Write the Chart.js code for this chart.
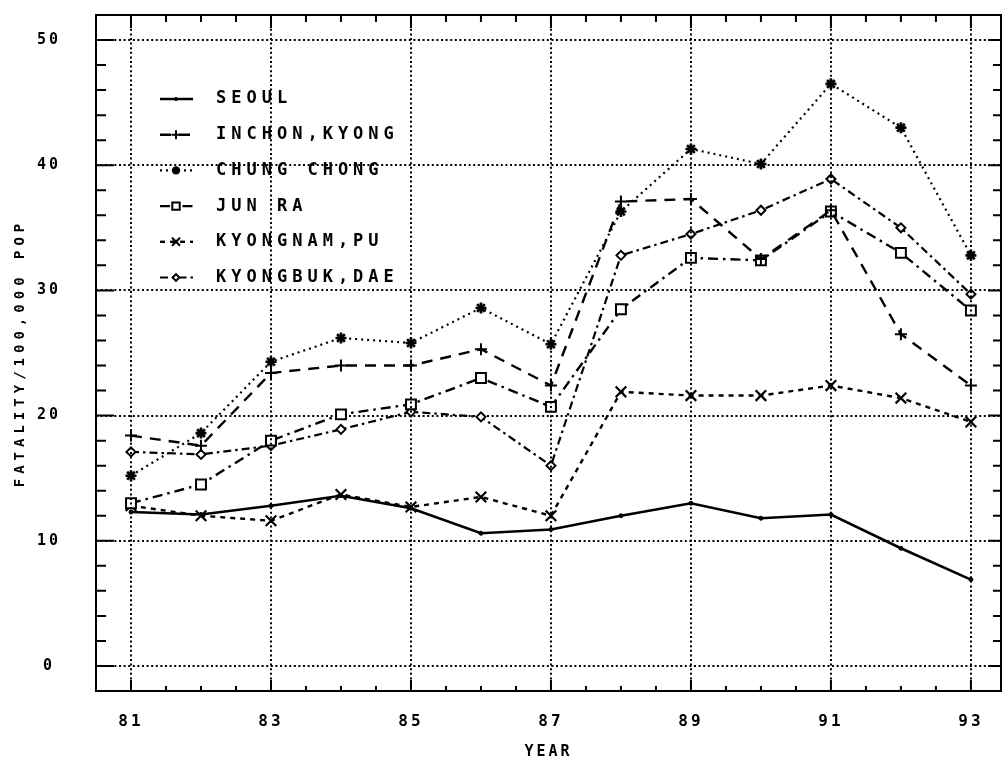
<!DOCTYPE html>
<html>
<head>
<meta charset="utf-8">
<script src="https://cdn.jsdelivr.net/npm/chart.js@4"></script>
<style>
  html, body { margin: 0; padding: 0; background: #fff; overflow: hidden; }
  #wrap { width: 1002px; height: 761px; position: relative; overflow: hidden; }
  #wrap canvas { display: block; }
</style>
</head>
<body>
<div id="wrap"><canvas id="canvas"></canvas></div>
<script>
// values, years 81..93
const years = [81, 82, 83, 84, 85, 86, 87, 88, 89, 90, 91, 92, 93];
const seoul    = [12.3, 12.1, 12.8, 13.6, 12.6, 10.6, 10.9, 12.0, 13.0, 11.8, 12.1, 9.4, 6.9];
const inchon   = [18.4, 17.6, 23.4, 24.0, 24.0, 25.3, 22.4, 37.1, 37.3, 32.5, 36.4, 26.5, 22.4];
const chung    = [15.2, 18.6, 24.3, 26.2, 25.8, 28.6, 25.7, 36.3, 41.3, 40.1, 46.5, 43.0, 32.8];
const junra    = [13.0, 14.5, 18.0, 20.1, 20.9, 23.0, 20.7, 28.5, 32.6, 32.4, 36.3, 33.0, 28.4];
const kyongnam = [12.8, 12.0, 11.6, 13.7, 12.7, 13.5, 12.0, 21.9, 21.6, 21.6, 22.4, 21.4, 19.5];
const kyongbuk = [17.1, 16.9, 17.6, 18.9, 20.3, 19.9, 16.0, 32.8, 34.5, 36.4, 38.9, 35.0, 29.7];

const seriesNames = ["SEOUL", "INCHON,KYONG", "CHUNG CHONG", "JUN RA", "KYONGNAM,PU", "KYONGBUK,DAE"];
const xTicks = [81, 83, 85, 87, 89, 91, 93];
const yTicks = [0, 10, 20, 30, 40, 50];

const seriesValues = [seoul, inchon, chung, junra, kyongnam, kyongbuk];

// line / marker look for each series
const styles = [
  { dash: [],              width: 2.6, point: "circle",   radius: 2,   pw: 1,   bg: "#000" },
  { dash: [11, 8],         width: 2.4, point: "cross",    radius: 6,   pw: 2,   bg: "#000" },
  { dash: [2, 4],          width: 2.2, point: "star",     radius: 5.5, pw: 2.6, bg: "#000" },
  { dash: [10, 5, 2.5, 5], width: 2.4, point: "rect",     radius: 7,   pw: 2,   bg: "#fff" },
  { dash: [5, 5],          width: 2.4, point: "crossRot", radius: 7.5, pw: 2.2, bg: "#000" },
  { dash: [8, 4, 2.5, 4],  width: 2.2, point: "rectRot",  radius: 4.5, pw: 2,   bg: "#fff" }
];

const datasets = seriesNames.map((name, i) => ({
  label: name,
  data: years.map((yr, j) => ({ x: yr, y: seriesValues[i][j] })),
  borderColor: "#000",
  borderWidth: styles[i].width,
  borderDash: styles[i].dash,
  pointStyle: styles[i].point,
  pointRadius: styles[i].radius,
  pointBorderWidth: styles[i].pw,
  pointBorderColor: "#000",
  pointBackgroundColor: styles[i].bg,
  fill: false,
  tension: 0
}));

// letter spacing: wide plotter-style text
// (y title drawn before the datasets, tick labels and YEAR after)
const spacingPlugin = {
  id: "spacing",
  beforeLayout(chart) { chart.ctx.letterSpacing = "3px"; },
  beforeDraw(chart) { chart.ctx.letterSpacing = "5px"; },
  afterDatasetsDraw(chart) { chart.ctx.letterSpacing = "3px"; }
};

// frame box with inward ticks on all four sides
const framePlugin = {
  id: "frame",
  afterDraw(chart) {
    const { ctx, chartArea: a, scales: { x, y } } = chart;
    ctx.save();
    ctx.setLineDash([]);
    ctx.strokeStyle = "#000";
    ctx.lineWidth = 2;
    ctx.strokeRect(a.left, a.top, a.right - a.left, a.bottom - a.top);
    ctx.beginPath();
    for (let v = 81; v <= 93; v += 0.5) {
      const px = x.getPixelForValue(v);
      const major = xTicks.includes(v);
      ctx.moveTo(px, a.bottom); ctx.lineTo(px, a.bottom - (major ? 11 : 5));
      ctx.moveTo(px, a.top); ctx.lineTo(px, a.top + (major ? 13 : 7));
    }
    for (let v = 0; v <= 50; v += 2) {
      const py = y.getPixelForValue(v);
      const major = yTicks.includes(v);
      ctx.moveTo(a.left, py); ctx.lineTo(a.left + (major ? 18 : 10), py);
      ctx.moveTo(a.right, py); ctx.lineTo(a.right - (major ? 13 : 8), py);
    }
    ctx.stroke();
    ctx.restore();
  }
};

// legend drawn inside the plot, line sample with marker in the middle
const legendPlugin = {
  id: "plotLegend",
  afterDraw(chart) {
    const ctx = chart.ctx;
    ctx.save();
    chart.data.datasets.forEach((ds, i) => {
      const cy = 99 + i * 35.7;
      ctx.strokeStyle = "#000";
      ctx.lineWidth = ds.borderWidth;
      ctx.setLineDash(ds.borderDash);
      ctx.beginPath();
      ctx.moveTo(160, cy);
      ctx.lineTo(193, cy);
      ctx.stroke();
      ctx.setLineDash([]);
      ctx.lineWidth = ds.pointBorderWidth;
      ctx.fillStyle = ds.pointBackgroundColor;
      Chart.helpers.drawPoint(ctx, {
        pointStyle: ds.pointStyle,
        radius: ds.pointRadius * 0.75,
        borderWidth: ds.pointBorderWidth,
        rotation: 0
      }, 176, cy);
      ctx.fillStyle = "#000";
      ctx.font = "bold 17px 'DejaVu Sans Mono'";
      ctx.letterSpacing = "5px";
      ctx.textAlign = "left";
      ctx.textBaseline = "middle";
      ctx.fillText(ds.label, 216, cy);
    });
    ctx.restore();
  }
};

const noPad = (scale) => {
  scale.paddingTop = 0;
  scale.paddingBottom = 0;
  scale.paddingLeft = 0;
  scale.paddingRight = 0;
};

const ctx = document.getElementById("canvas").getContext("2d");

new Chart(ctx, {
  type: "line",
  data: { datasets: datasets },
  plugins: [spacingPlugin, framePlugin, legendPlugin],
  options: {
    responsive: true,
    maintainAspectRatio: false,
    animation: false,
    devicePixelRatio: 1,
    layout: { autoPadding: false, padding: { top: 15, right: 1, left: 0, bottom: 0 } },
    plugins: {
      legend: { display: false },
      tooltip: { enabled: false }
    },
    scales: {
      x: {
        type: "linear",
        min: 80.5,
        max: 93.43,
        afterBuildTicks: (scale) => { scale.ticks = xTicks.map(v => ({ value: v })); },
        afterFit: (scale) => { scale.height = 70; noPad(scale); },
        ticks: {
          z: 1,
          padding: 21,
          color: "#000",
          font: { family: "'DejaVu Sans Mono'", size: 16, weight: "bold" }
        },
        grid: { color: "#000", lineWidth: 2, drawTicks: false, z: 1 },
        border: { display: false, dash: [2, 2.6] },
        title: {
          display: true,
          text: "YEAR",
          color: "#000",
          font: { family: "'DejaVu Sans Mono'", size: 15, weight: "bold" },
          padding: { top: 5, bottom: 0 }
        }
      },
      y: {
        type: "linear",
        min: -2,
        max: 52,
        afterBuildTicks: (scale) => { scale.ticks = yTicks.map(v => ({ value: v })); },
        afterFit: (scale) => { scale.width = 96; noPad(scale); },
        ticks: {
          z: 1,
          padding: 35,
          crossAlign: "center",
          color: "#000",
          font: { family: "'DejaVu Sans Mono'", size: 15, weight: "bold" }
        },
        grid: { color: "#000", lineWidth: 2, drawTicks: false },
        border: { display: false, dash: [2, 2.6] },
        title: {
          display: true,
          text: "FATALITY/100,000 POP",
          color: "#000",
          font: { family: "'DejaVu Sans Mono'", size: 14, weight: "bold" },
          padding: { top: 11.6, bottom: 0 }
        }
      }
    }
  }
});
</script>
</body>
</html>
